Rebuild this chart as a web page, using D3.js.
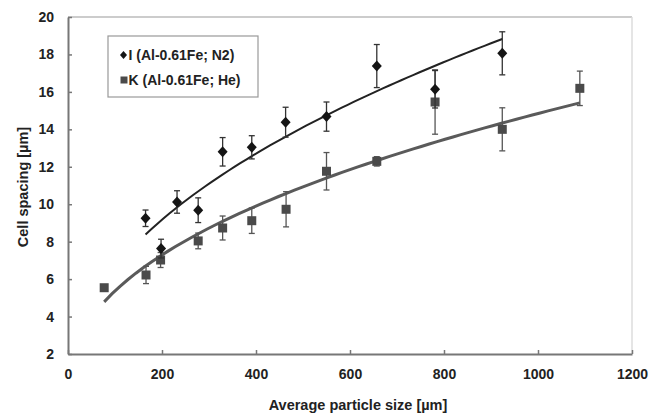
<!DOCTYPE html>
<html>
<head>
<meta charset="utf-8">
<script src="https://d3js.org/d3.v7.min.js"></script>
<style>
  body { margin: 0; background: #fff; }
  text { font-family: "Liberation Sans", Arial, sans-serif; font-weight: bold; fill: #222; }
</style>
</head>
<body>
<div id="chart"></div>
<script>
// series I (Al-0.61Fe; N2)
var sizeI = [165, 198, 232, 277, 329, 391, 463, 550, 657, 781, 924];
var spacingI = [9.25, 7.63, 10.12, 9.68, 12.8, 13.04, 14.38, 14.68, 17.38, 16.14, 18.06];
var errI = [0.44, 0.5, 0.6, 0.66, 0.76, 0.62, 0.8, 0.78, 1.15, 1.0, 1.15];

// series K (Al-0.61Fe; He)
var sizeK = [77, 166, 197, 277, 329, 391, 464, 550, 657, 781, 924, 1089];
var spacingK = [5.54, 6.22, 7.02, 8.04, 8.73, 9.12, 9.73, 11.76, 12.29, 15.46, 14.0, 16.19];
var errK = [0, 0.46, 0.4, 0.42, 0.64, 0.68, 0.94, 1.0, 0.25, 1.72, 1.15, 0.92];

var xTicks = [0, 200, 400, 600, 800, 1000, 1200];
var yTicks = [2, 4, 6, 8, 10, 12, 14, 16, 18, 20];
var labels = ["I (Al-0.61Fe; N2)", "K (Al-0.61Fe; He)"];

var W = 661, H = 413;
var margin = {top: 17, right: 29, bottom: 59, left: 68},
    width = W - margin.left - margin.right,
    height = H - margin.top - margin.bottom;

var svg = d3.select("#chart").append("svg")
    .attr("width", W).attr("height", H);
var g = svg.append("g")
    .attr("transform", "translate(" + margin.left + "," + margin.top + ")");

var x = d3.scaleLinear().domain([0, 1200]).range([0, width]);
var y = d3.scaleLinear().domain([2, 20]).range([height, 0]);

// frame (top + right)
g.append("line").attr("x1", 0).attr("x2", width).attr("y1", 0).attr("y2", 0)
  .attr("stroke", "#bbb").attr("stroke-width", 1.5);
g.append("line").attr("x1", width).attr("x2", width).attr("y1", 0).attr("y2", height)
  .attr("stroke", "#ddd").attr("stroke-width", 1.5);

// axes with inner ticks
var xAxis = g.append("g").attr("transform", "translate(0," + height + ")")
  .call(d3.axisBottom(x).tickValues(xTicks).tickFormat(d3.format("d"))
    .tickSize(-4).tickPadding(15).tickSizeOuter(0));
var yAxis = g.append("g")
  .call(d3.axisLeft(y).tickValues(yTicks).tickSize(-4).tickPadding(14).tickSizeOuter(0));
[xAxis, yAxis].forEach(function(a) {
  a.select(".domain").attr("stroke", "#777").attr("stroke-width", 2);
  a.selectAll(".tick line").attr("stroke", "#777").attr("stroke-width", 1.5);
  a.selectAll(".tick text").style("font-size", "14px").style("font-family", "Liberation Sans, Arial")
    .style("font-weight", "bold").attr("fill", "#222");
});

// axis titles
svg.append("text").attr("x", 358).attr("y", 410)
  .attr("text-anchor", "middle").style("font-size", "14.5px")
  .text("Average particle size [\u00b5m]");
svg.append("text").attr("transform", "translate(28,187) rotate(-90)")
  .attr("text-anchor", "middle").style("font-size", "14.5px")
  .text("Cell spacing [\u00b5m]");

// power trend line y = a*x^b, least squares in log-log space
function powerFit(xs, ys) {
  var lx = xs.map(Math.log), ly = ys.map(Math.log);
  var mx = d3.mean(lx), my = d3.mean(ly);
  var b = d3.sum(lx, function(v, i) { return (v - mx) * (ly[i] - my); }) /
          d3.sum(lx, function(v) { return (v - mx) * (v - mx); });
  var a = Math.exp(my - b * mx);
  var x0 = d3.min(xs), x1 = d3.max(xs);
  return d3.range(0, 61).map(function(k) {
    var xv = x0 + (x1 - x0) * k / 60;
    return [xv, a * Math.pow(xv, b)];
  });
}
var line = d3.line().x(function(d) { return x(d[0]); }).y(function(d) { return y(d[1]); });

function drawSeries(xs, ys, es, col, lineCol, lineW, errCol, marker) {
  var data = xs.map(function(v, i) { return {x: v, y: ys[i], e: es[i]}; });
  g.append("path").datum(powerFit(xs, ys)).attr("d", line)
    .attr("fill", "none").attr("stroke", lineCol).attr("stroke-width", lineW);
  var eb = g.append("g").selectAll("g").data(data.filter(function(d) { return d.e > 0; }))
    .enter().append("g").attr("stroke", errCol).attr("stroke-width", 1.3);
  eb.append("line").attr("x1", function(d) { return x(d.x); }).attr("x2", function(d) { return x(d.x); })
    .attr("y1", function(d) { return y(d.y - d.e); }).attr("y2", function(d) { return y(d.y + d.e); });
  [-1, 1].forEach(function(s) {
    eb.append("line").attr("x1", function(d) { return x(d.x) - 3; }).attr("x2", function(d) { return x(d.x) + 3; })
      .attr("y1", function(d) { return y(d.y + s * d.e); }).attr("y2", function(d) { return y(d.y + s * d.e); });
  });
  g.append("g").selectAll("path").data(data).enter().append("path")
    .attr("transform", function(d) { return "translate(" + x(d.x) + "," + y(d.y) + ")"; })
    .attr("d", marker).attr("fill", col);
}

var diamond = "M0,-5.5L5,0L0,5.5L-5,0Z";
var square = "M-4.5,-4.5H4.5V4.5H-4.5Z";

drawSeries(sizeK, spacingK, errK, "#4a4a4a", "#5a5a5a", 3, "#555", square);
drawSeries(sizeI, spacingI, errI, "#151515", "#222", 2, "#333", diamond);

// legend
var lg = svg.append("g").attr("transform", "translate(108,36)");
lg.append("rect").attr("width", 150).attr("height", 61)
  .attr("fill", "#fff").attr("stroke", "#999").attr("stroke-width", 1.2);
lg.append("path").attr("transform", "translate(15.5,19)").attr("d", "M0,-4L3.5,0L0,4L-3.5,0Z").attr("fill", "#151515");
lg.append("path").attr("transform", "translate(16,44)").attr("d", "M-3.5,-3.5H3.5V3.5H-3.5Z").attr("fill", "#4a4a4a");
lg.selectAll("text.l").data(labels).enter().append("text")
  .attr("x", 20.5).attr("y", function(d, i) { return 24 + i * 25; })
  .style("font-size", "14px").text(function(d) { return d; });
</script>
</body>
</html>
